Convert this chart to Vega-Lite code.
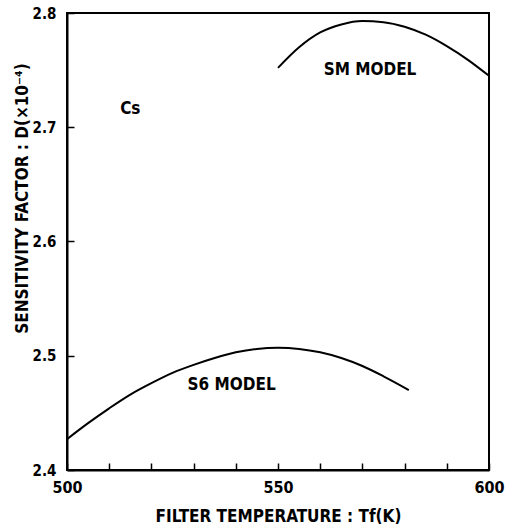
{
  "$schema": "https://vega.github.io/schema/vega-lite/v6.json",
  "width": 422,
  "height": 457,
  "autosize": {"type": "none"},
  "padding": {"left": 67, "top": 13, "right": 16, "bottom": 58},
  "background": "white",
  "config": {
    "view": {"stroke": "black", "strokeWidth": 2},
    "font": "DejaVu Sans Condensed",
    "axis": {"grid": false, "domainColor": "black", "domainWidth": 2, "tickColor": "black", "tickWidth": 1.5, "labelColor": "black", "titleColor": "black", "labelFont": "DejaVu Sans Condensed", "titleFont": "DejaVu Sans Condensed", "labelFontWeight": "bold", "titleFontWeight": "bold"}
  },
  "datasets": {
    "curves": [
      {"T": 500, "D": 2.427, "model": "S6"},
      {"T": 505, "D": 2.441, "model": "S6"},
      {"T": 510, "D": 2.454, "model": "S6"},
      {"T": 515, "D": 2.466, "model": "S6"},
      {"T": 520, "D": 2.476, "model": "S6"},
      {"T": 525, "D": 2.485, "model": "S6"},
      {"T": 530, "D": 2.492, "model": "S6"},
      {"T": 535, "D": 2.498, "model": "S6"},
      {"T": 540, "D": 2.503, "model": "S6"},
      {"T": 545, "D": 2.506, "model": "S6"},
      {"T": 550, "D": 2.507, "model": "S6"},
      {"T": 555, "D": 2.506, "model": "S6"},
      {"T": 560, "D": 2.503, "model": "S6"},
      {"T": 565, "D": 2.498, "model": "S6"},
      {"T": 570, "D": 2.491, "model": "S6"},
      {"T": 575, "D": 2.482, "model": "S6"},
      {"T": 581, "D": 2.470, "model": "S6"},
      {"T": 550, "D": 2.752, "model": "SM"},
      {"T": 555, "D": 2.770, "model": "SM"},
      {"T": 560, "D": 2.783, "model": "SM"},
      {"T": 565, "D": 2.790, "model": "SM"},
      {"T": 570, "D": 2.793, "model": "SM"},
      {"T": 575, "D": 2.792, "model": "SM"},
      {"T": 580, "D": 2.788, "model": "SM"},
      {"T": 585, "D": 2.781, "model": "SM"},
      {"T": 590, "D": 2.771, "model": "SM"},
      {"T": 595, "D": 2.759, "model": "SM"},
      {"T": 600, "D": 2.745, "model": "SM"}
    ],
    "labels": [
      {"T": 515, "D": 2.716, "text": "Cs"},
      {"T": 571.8, "D": 2.75, "text": "SM MODEL"},
      {"T": 539, "D": 2.474, "text": "S6 MODEL"}
    ]
  },
  "layer": [
    {
      "data": {"name": "curves"},
      "mark": {"type": "line", "color": "black", "strokeWidth": 2, "interpolate": "monotone", "clip": true},
      "encoding": {
        "x": {
          "field": "T", "type": "quantitative",
          "scale": {"domain": [500, 600], "nice": false},
          "axis": {
            "title": "FILTER TEMPERATURE : Tf(K)",
            "values": [500, 510, 520, 530, 540, 550, 560, 570, 580, 590, 600],
            "labelExpr": "datum.value % 50 === 0 ? datum.label : ''",
            "tickSize": -7,
            "labelPadding": 16,
            "labelFontSize": 16,
            "labelFlush": false,
            "titleFontSize": 17,
            "titlePadding": 13
          }
        },
        "y": {
          "field": "D", "type": "quantitative",
          "scale": {"domain": [2.4, 2.8], "nice": false, "zero": false},
          "axis": {
            "title": "SENSITIVITY FACTOR : D(×10⁻⁴)",
            "values": [2.4, 2.5, 2.6, 2.7, 2.8],
            "format": ".1f",
            "tickSize": -7,
            "labelPadding": 18,
            "labelFontSize": 15,
            "titleFontSize": 17,
            "titleX": -36,
            "titleY": 185
          }
        },
        "detail": {"field": "model"}
      }
    },
    {
      "data": {"name": "labels"},
      "mark": {"type": "text", "color": "black", "fontSize": 17, "fontWeight": "bold", "font": "DejaVu Sans Condensed"},
      "encoding": {
        "x": {"field": "T", "type": "quantitative"},
        "y": {"field": "D", "type": "quantitative"},
        "text": {"field": "text"}
      }
    }
  ]
}
